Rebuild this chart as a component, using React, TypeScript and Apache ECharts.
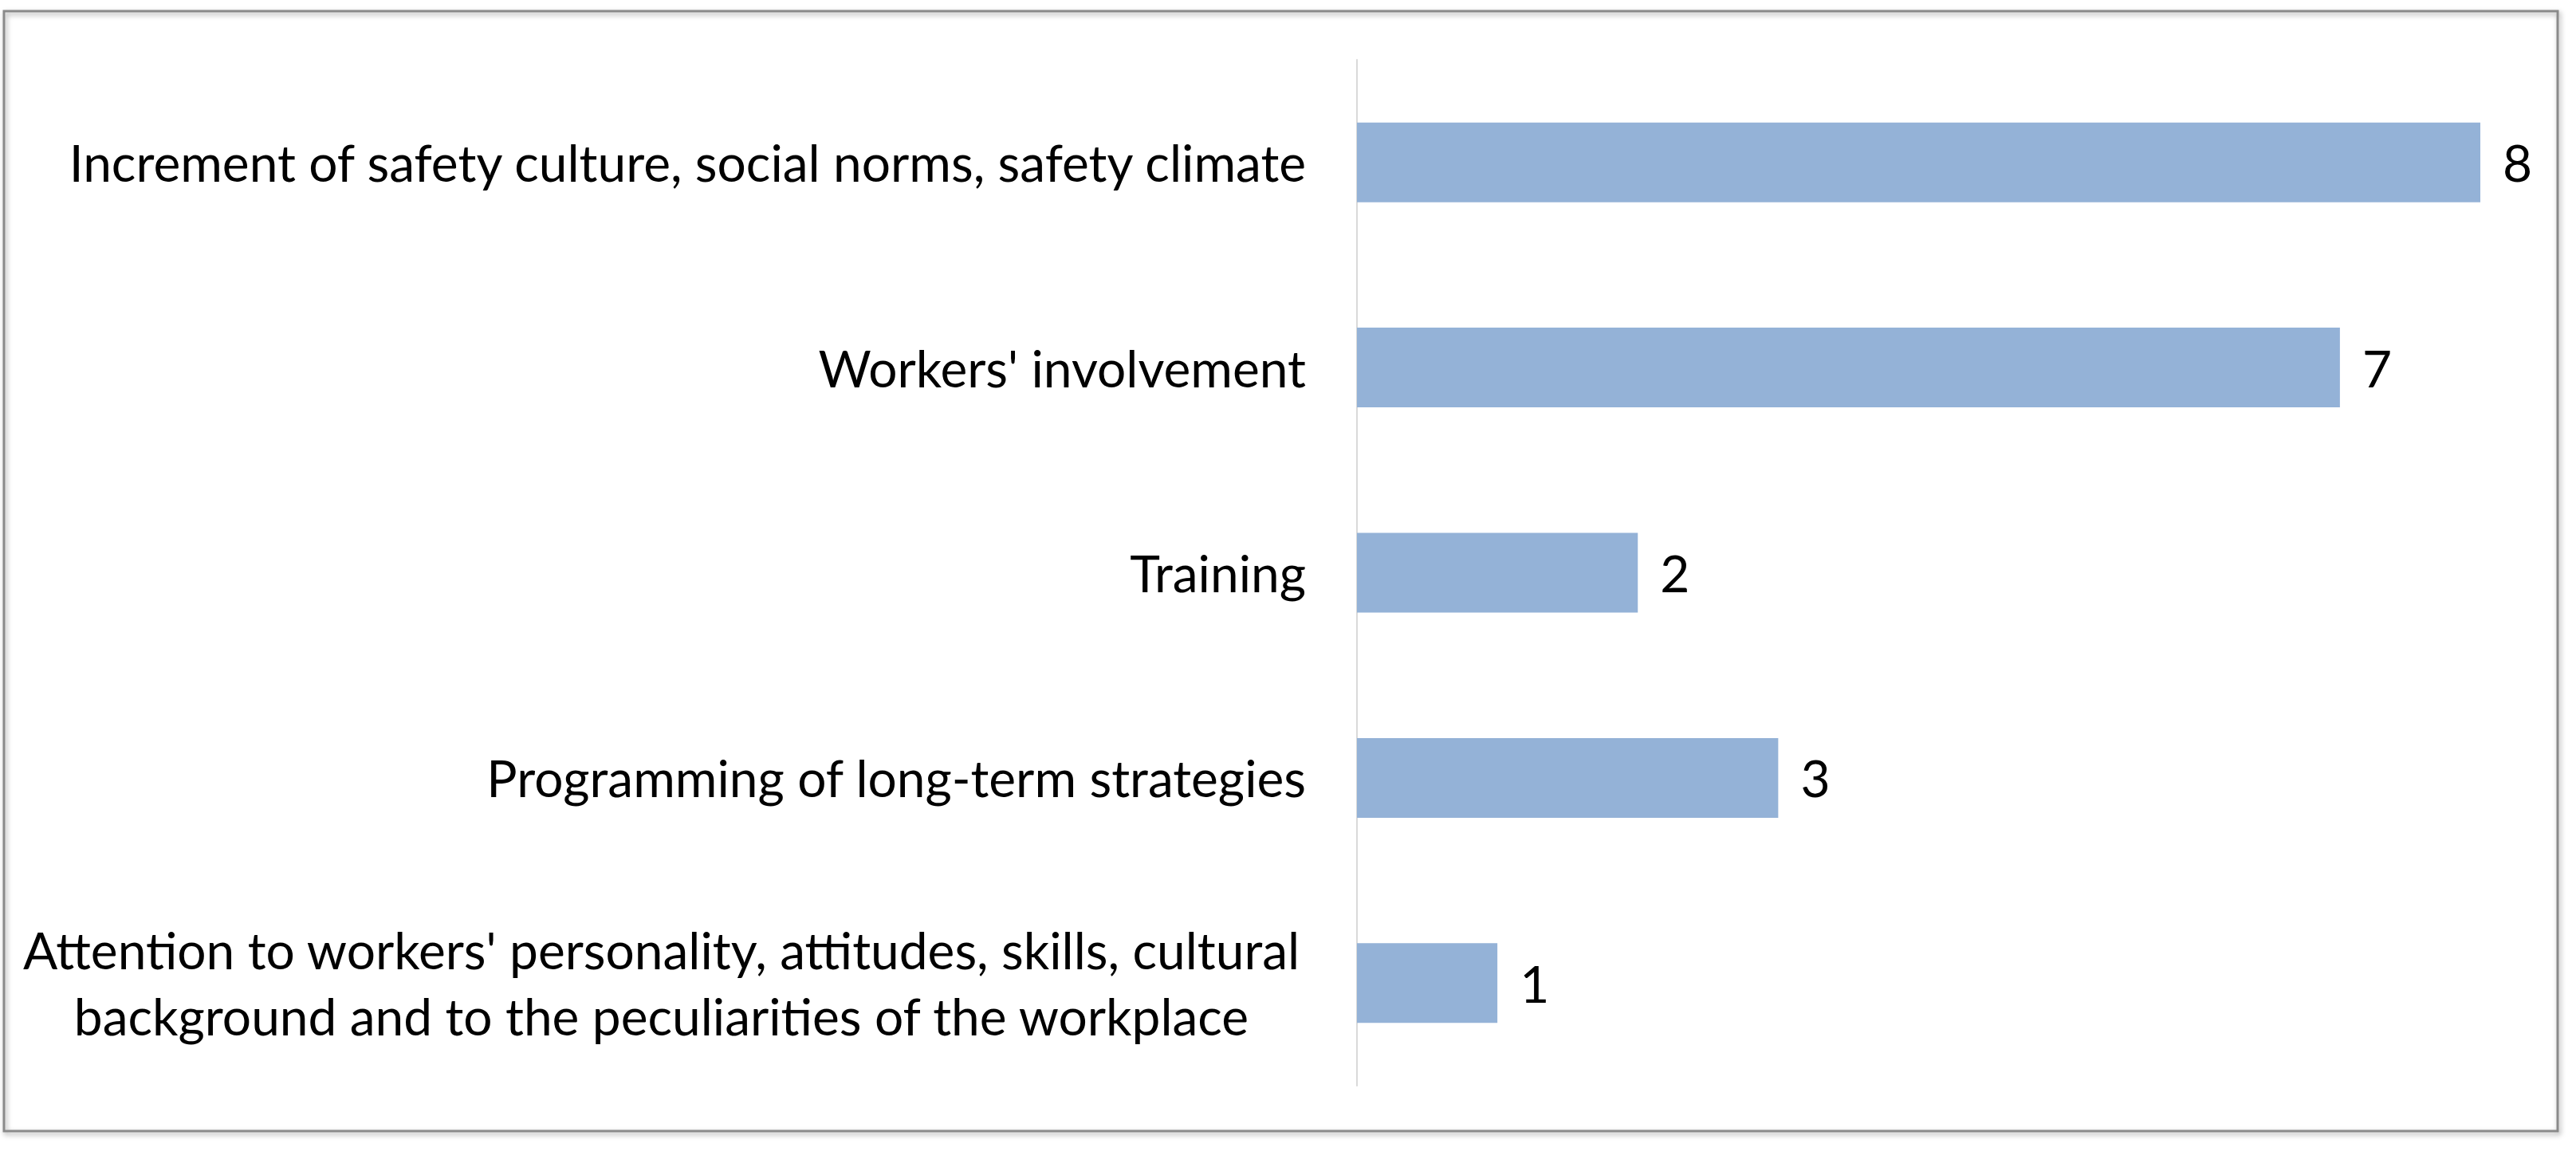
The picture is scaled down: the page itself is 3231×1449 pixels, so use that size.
import React, { useEffect, useRef } from "react";
import * as echarts from "echarts";

const categories: string[] = [
  "Increment of safety culture, social norms, safety climate",
  "Workers' involvement",
  "Training",
  "Programming of long-term strategies",
  "Attention to workers' personality, attitudes, skills, cultural\nbackground and to the peculiarities of the workplace",
];
const values: number[] = [8, 7, 2, 3, 1];
const axisMax = 8;

const FONT = "Lato";
const FS = 64;

export default function App() {
  const ref = useRef<HTMLDivElement>(null);
  useEffect(() => {
    if (!ref.current) return;
    const chart = echarts.init(ref.current, undefined, { renderer: "svg" });
    chart.setOption({
      animation: false,
      backgroundColor: "#ffffff",
      graphic: [
        {
          type: "rect",
          shape: { x: 5, y: 14, width: 3203, height: 1405 },
          style: {
            fill: "none",
            stroke: "#8a8a8a",
            lineWidth: 3,
            shadowColor: "rgba(0,0,0,0.35)",
            shadowBlur: 6,
            shadowOffsetX: 2,
            shadowOffsetY: 3,
          },
          z: 0,
        },
      ],
      grid: { left: 1702, right: 120, top: 75, bottom: 87, containLabel: false },
      xAxis: {
        type: "value",
        min: 0,
        max: axisMax,
        show: false,
        splitLine: { show: false },
      },
      yAxis: {
        type: "category",
        data: categories,
        inverse: true,
        axisTick: { show: false },
        axisLine: { show: true, lineStyle: { color: "#d9d9d9", width: 2 } },
        axisLabel: {
          margin: 64,
          color: "#000000",
          fontFamily: FONT,
          fontSize: FS,
          lineHeight: 83,
          formatter: (v: string) => {
            if (v.indexOf("\n") >= 0) {
              return v
                .split("\n")
                .map((l) => "{c|" + l + "}")
                .join("\n");
            }
            return v;
          },
          rich: {
            c: {
              width: 1617,
              align: "center",
              fontFamily: FONT,
              fontSize: FS,
              lineHeight: 83,
              color: "#000000",
            },
          },
        },
      },
      series: [
        {
          type: "bar",
          data: values,
          barWidth: 100,
          itemStyle: { color: "#94b2d7" },
          label: {
            show: true,
            position: "right",
            distance: 28,
            color: "#000000",
            fontFamily: FONT,
            fontSize: FS,
          },
        },
      ],
    });
    return () => chart.dispose();
  }, []);
  return (
    <div
      ref={ref}
      style={{ position: "fixed", left: 0, top: 0, width: 3231, height: 1449 }}
    />
  );
}
